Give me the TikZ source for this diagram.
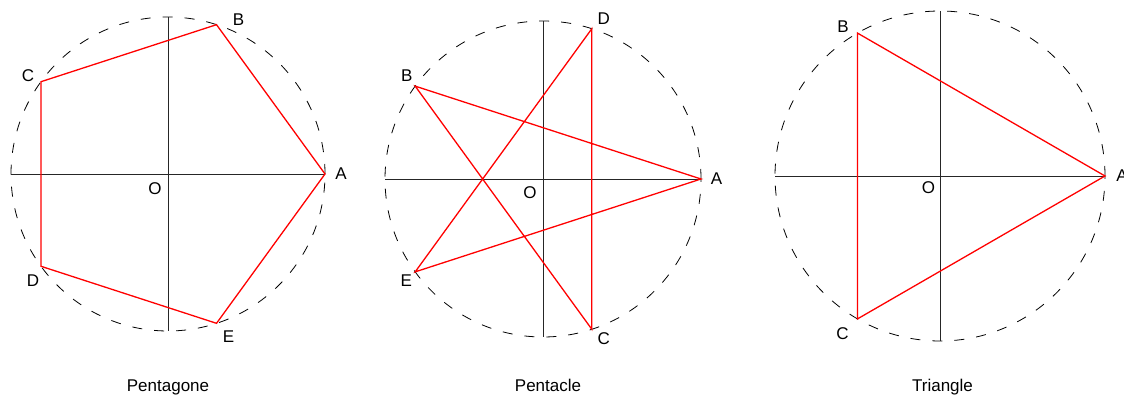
\documentclass[tikz,border=0pt]{standalone}
\usepackage{fontspec}
\setmainfont{Liberation Sans}
\usetikzlibrary{positioning}
\tikzset{
  rim/.style={line width=0.8pt, dash pattern=on 10pt off 12pt},
  axis/.style={line width=0.8pt, black!85},
  poly/.style={red, line width=1.3pt, line join=miter},
  lbl/.style={inner sep=0pt, font=\fontsize{17}{20}\selectfont},
  caption/.style={inner sep=0pt, anchor=base, font=\fontsize{17}{20}\selectfont}
}

\begin{document}
\begin{tikzpicture}[x=1pt, y=1pt]
  \useasboundingbox (0,0) rectangle (1124,398);

  % Pentagone
  \begin{scope}[shift={(168,224)}]
    \coordinate (O1) at (0,0);
    \coordinate (W1) at (180:157);
    \coordinate (N1) at (90:157);
    \coordinate (S1) at (270:157);
    \foreach \v/\a in {A/0, B/72, C/144, D/216, E/288}{
      \coordinate (\v1) at (\a:157);
    }
    \draw[rim] (O1) circle (157);
    \draw[axis] (W1) -- (A1);
    \draw[axis] (S1) -- (N1);
    \draw[poly] (A1) -- (B1) -- (C1) -- (D1) -- (E1) -- cycle;
    \foreach \v/\dx/\dy in {A/16/0, B/22/5.5, C/-13/6, D/-8/-14, E/12/-13, O/-13/-14.5}{
      \node[lbl] (l\v1) at ([shift={(\dx,\dy)}]\v1) {\v};
    }
    \node[caption] (cap1) at (0,-218) {Pentagone};
  \end{scope}

  % Pentacle
  \begin{scope}[shift={(543,219)}]
    \coordinate (O2) at (0,0);
    \coordinate (W2) at (180:158);
    \coordinate (N2) at (90:158);
    \coordinate (S2) at (270:158);
    \foreach \v/\a in {A/0, D/72, B/144, E/216, C/288}{
      \coordinate (\v2) at (\a:158);
    }
    \draw[rim] (O2) circle (158);
    \draw[axis] (W2) -- (A2);
    \draw[axis] (S2) -- (N2);
    \draw[poly] (A2) -- (B2) -- (C2) -- (D2) -- (E2) -- cycle;
    \foreach \v/\dx/\dy in {A/15.5/0, B/-8.5/10, C/12/-9, D/12/10, E/-9/-9, O/-13/-13.5}{
      \node[lbl] (l\v2) at ([shift={(\dx,\dy)}]\v2) {\v};
    }
    \node[caption] (cap2) at (5,-213) {Pentacle};
  \end{scope}

  % Triangle
  \begin{scope}[shift={(940,222)}]
    \coordinate (O3) at (0,0);
    \coordinate (W3) at (180:165);
    \coordinate (N3) at (90:165);
    \coordinate (S3) at (270:165);
    \foreach \v/\a in {A/0, B/120, C/240}{
      \coordinate (\v3) at (\a:165);
    }
    \draw[rim] (O3) circle (165);
    \draw[axis] (W3) -- (A3);
    \draw[axis] (S3) -- (N3);
    \draw[poly] (A3) -- (B3) -- (C3) -- cycle;
    \foreach \v/\dx/\dy in {A/17/0, B/-14.5/6.5, C/-15/-15, O/-11.5/-12}{
      \node[lbl] (l\v3) at ([shift={(\dx,\dy)}]\v3) {\v};
    }
    \node[caption] (cap3) at (2.5,-216) {Triangle};
  \end{scope}
\end{tikzpicture}
\end{document}
